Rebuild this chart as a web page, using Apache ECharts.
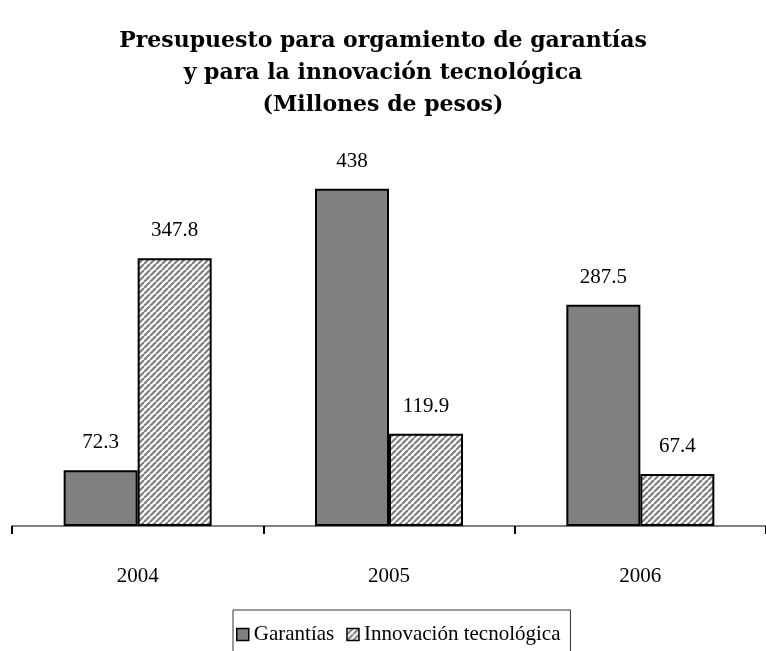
<!DOCTYPE html>
<html><head><meta charset="utf-8">
<script src="https://cdn.jsdelivr.net/npm/echarts@6/dist/echarts.min.js"></script>
<style>html,body{margin:0;padding:0;background:#fff}#c{width:766px;height:651px}</style>
</head><body><div id="c"></div>
<script>
const categories = ['2004', '2005', '2006'];
const garantias = [72.3, 438, 287.5];
const innovacion = [347.8, 119.9, 67.4];
const seriesNames = ['Garantías', 'Innovación tecnológica'];
const titleLines = ['Presupuesto para orgamiento de garantías', 'y para la innovación tecnológica', '(Millones de pesos)'];

function hatch() {
  const s = 6;
  const c = document.createElement('canvas');
  c.width = s; c.height = s;
  const g = c.getContext('2d');
  g.fillStyle = '#ffffff'; g.fillRect(0, 0, s, s);
  g.strokeStyle = '#7f7f7f'; g.lineWidth = 2.2;
  for (let k = -1; k <= 1; k++) {
    g.beginPath();
    g.moveTo(k * s, s); g.lineTo(k * s + s, 0);
    g.stroke();
  }
  return c;
}
const hatchPattern = { image: hatch(), repeat: 'repeat' };
const serif = '"Liberation Serif", "DejaVu Serif", serif';
const titleFont = '"DejaVu Serif", "Liberation Serif", serif';

const chart = echarts.init(document.getElementById('c'));
chart.setOption({
  animation: false,
  backgroundColor: '#fff',
  title: {
    text: titleLines.join('\n'),
    left: 'center', top: 20,
    textStyle: { fontFamily: titleFont, fontWeight: 'bold', fontSize: 22, lineHeight: 32, color: '#000' }
  },
  legend: {
    bottom: -14, left: 233,
    data: seriesNames,
    icon: 'rect',
    itemWidth: 12, itemHeight: 12, itemGap: 12,
    borderColor: '#333', borderWidth: 1, padding: [14, 10, 20, 3],
    textStyle: { fontFamily: serif, fontSize: 21, color: '#000' },
    itemStyle: { borderColor: '#000', borderWidth: 1.5 }
  },
  grid: { left: 12, width: 759, top: 141, bottom: 125, containLabel: false },
  xAxis: {
    type: 'category', data: categories,
    axisLine: { lineStyle: { color: '#808080', width: 2 } },
    axisTick: { show: true, length: 8, lineStyle: { color: '#000', width: 2 } },
    axisLabel: { margin: 40, fontFamily: serif, fontSize: 21, color: '#000' }
  },
  yAxis: { type: 'value', min: 0, max: 500, show: false, splitLine: { show: false } },
  series: [
    {
      name: seriesNames[0], type: 'bar', data: garantias,
      barWidth: 74, barGap: '0%',
      itemStyle: { color: '#808080', borderColor: '#000', borderWidth: 2 },
      label: { show: true, position: 'top', distance: 17, fontFamily: serif, fontSize: 21, color: '#000' }
    },
    {
      name: seriesNames[1], type: 'bar', data: innovacion,
      barWidth: 74, barGap: '0%',
      itemStyle: { color: hatchPattern, borderColor: '#000', borderWidth: 2 },
      label: { show: true, position: 'top', distance: 17, fontFamily: serif, fontSize: 21, color: '#000' }
    }
  ]
});
</script></body></html>
